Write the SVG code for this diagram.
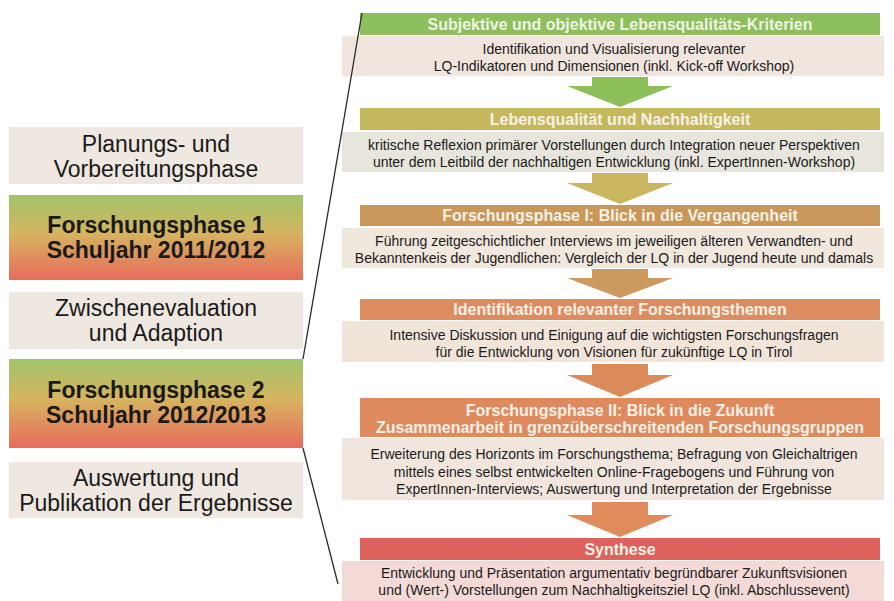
<svg xmlns="http://www.w3.org/2000/svg" width="894" height="601" viewBox="0 0 894 601">
<defs>
<linearGradient id="gPhase" x1="0" y1="0" x2="0" y2="1">
<stop offset="0" stop-color="#9fc46b"/>
<stop offset="0.45" stop-color="#d6b45f"/>
<stop offset="1" stop-color="#e86b5c"/>
</linearGradient>
<style>
.lbox{fill:#efe8e0}
.ltxt{font-family:"Liberation Sans",Arial,sans-serif;font-size:23px;fill:#1a1a1a;text-anchor:middle}
.lbold{font-weight:bold}
.htxt{font-family:"Liberation Sans",Arial,sans-serif;font-size:16px;font-weight:bold;fill:#f6f1e6;text-anchor:middle}
.btxt{font-family:"Liberation Sans",Arial,sans-serif;font-size:14px;fill:#1a1a1a;text-anchor:middle}
.conn{stroke:#2a2a2a;stroke-width:1.3;fill:none}
</style>
</defs>
<rect width="894" height="601" fill="#ffffff"/>

<g id="left-planung">
<rect class="lbox" x="9" y="127" width="294" height="57"/>
<text class="ltxt" x="156" y="152">Planungs- und</text>
<text class="ltxt" x="156" y="177">Vorbereitungsphase</text>
</g>
<g id="left-fp1">
<rect x="9" y="195" width="294" height="85" fill="url(#gPhase)"/>
<text class="ltxt lbold" x="156" y="233">Forschungsphase 1</text>
<text class="ltxt lbold" x="156" y="258">Schuljahr 2011/2012</text>
</g>
<g id="left-zwischen">
<rect class="lbox" x="9" y="292" width="294" height="57"/>
<text class="ltxt" x="156" y="316">Zwischenevaluation</text>
<text class="ltxt" x="156" y="341">und Adaption</text>
</g>
<g id="left-fp2">
<rect x="9" y="359" width="294" height="89" fill="url(#gPhase)"/>
<text class="ltxt lbold" x="156" y="398">Forschungsphase 2</text>
<text class="ltxt lbold" x="156" y="423">Schuljahr 2012/2013</text>
</g>
<g id="left-auswertung">
<rect class="lbox" x="9" y="462" width="294" height="56"/>
<text class="ltxt" x="156" y="486">Auswertung und</text>
<text class="ltxt" x="156" y="511">Publikation der Ergebnisse</text>
</g>

<g id="step1">
<rect x="360" y="13" width="520" height="22" fill="#8dbf5d"/>
<text class="htxt" x="620" y="30" style="fill:#eef4e2">Subjektive und objektive Lebensqualitäts-Kriterien</text>
<rect x="342" y="36" width="542" height="40" fill="#f0e6de"/>
<text class="btxt" x="614" y="54">Identifikation und Visualisierung relevanter</text>
<text class="btxt" x="614" y="71">LQ-Indikatoren und Dimensionen (inkl. Kick-off Workshop)</text>
</g>
<g id="step2">
<rect x="360" y="108" width="520" height="22" fill="#c5b85c"/>
<text class="htxt" x="620" y="125">Lebensqualität und Nachhaltigkeit</text>
<rect x="342" y="132" width="542" height="40" fill="#e8e6dc"/>
<text class="btxt" x="614" y="150">kritische Reflexion primärer Vorstellungen durch Integration neuer Perspektiven</text>
<text class="btxt" x="614" y="167">unter dem Leitbild der nachhaltigen Entwicklung (inkl. ExpertInnen-Workshop)</text>
</g>
<g id="step3">
<rect x="360" y="205" width="520" height="21" fill="#c99759"/>
<text class="htxt" x="620" y="221">Forschungsphase I: Blick in die Vergangenheit</text>
<rect x="342" y="228" width="542" height="40" fill="#f0e7dd"/>
<text class="btxt" x="614" y="246">Führung zeitgeschichtlicher Interviews im jeweiligen älteren Verwandten- und</text>
<text class="btxt" x="614" y="263">Bekanntenkeis der Jugendlichen: Vergleich der LQ in der Jugend heute und damals</text>
</g>
<g id="step4">
<rect x="360" y="299" width="520" height="21" fill="#dd8c5f"/>
<text class="htxt" x="620" y="315">Identifikation relevanter Forschungsthemen</text>
<rect x="342" y="321" width="542" height="41" fill="#f1e5da"/>
<text class="btxt" x="614" y="340">Intensive Diskussion und Einigung auf die wichtigsten Forschungsfragen</text>
<text class="btxt" x="614" y="357">für die Entwicklung von Visionen für zukünftige LQ in Tirol</text>
</g>
<g id="step5">
<rect x="360" y="398" width="520" height="39" fill="#df8a5e"/>
<text class="htxt" x="620" y="416">Forschungsphase II: Blick in die Zukunft</text>
<text class="htxt" x="620" y="433">Zusammenarbeit in grenzüberschreitenden Forschungsgruppen</text>
<rect x="342" y="438" width="542" height="62" fill="#f0e6de"/>
<text class="btxt" x="614" y="459">Erweiterung des Horizonts im Forschungsthema; Befragung von Gleichaltrigen</text>
<text class="btxt" x="614" y="477">mittels eines selbst entwickelten Online-Fragebogens und Führung von</text>
<text class="btxt" x="614" y="494">ExpertInnen-Interviews; Auswertung und Interpretation der Ergebnisse</text>
</g>
<g id="step6">
<rect x="360" y="538" width="520" height="22" fill="#df615b"/>
<text class="htxt" x="620" y="555">Synthese</text>
<rect x="342" y="561" width="542" height="40" fill="#f4dad7"/>
<text class="btxt" x="614" y="578">Entwicklung und Präsentation argumentativ begründbarer Zukunftsvisionen</text>
<text class="btxt" x="614" y="595">und (Wert-) Vorstellungen zum Nachhaltigkeitsziel LQ (inkl. Abschlussevent)</text>
</g>

<g id="connectors">
<line class="conn" x1="362" y1="13" x2="303" y2="359"/>
<line class="conn" x1="303" y1="448" x2="338" y2="584"/>
<polygon points="592,77 648,77 648,86 673,86 620,107 567,86 592,86" fill="#8dbf5b"/>
<polygon points="592,173 648,173 648,183 673,183 620,204 567,183 592,183" fill="#cbb660"/>
<polygon points="592,269 648,269 648,278 673,278 620,298 567,278 592,278" fill="#cc9a5e"/>
<polygon points="592,364 648,364 648,375 673,375 620,397 567,375 592,375" fill="#dd8a5b"/>
<polygon points="592,502 648,502 648,515 673,515 620,537 567,515 592,515" fill="#df8b5c"/>
</g>
</svg>
